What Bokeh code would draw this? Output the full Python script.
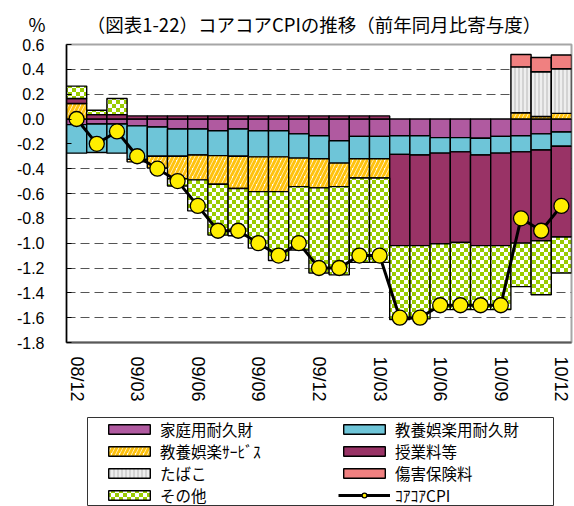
import numpy as np
from bokeh.plotting import figure
from bokeh.layouts import column
from bokeh.models import (ColumnDataSource, Range1d, FixedTicker, Legend,
                          LegendItem, CanvasTexture, PrintfTickFormatter)
from bokeh.core.properties import value
from bokeh.embed import file_html
from bokeh.resources import INLINE

# ---------------- data ----------------
months = ["08/12", "09/01", "09/02", "09/03", "09/04", "09/05", "09/06", "09/07", "09/08",
          "09/09", "09/10", "09/11", "09/12", "10/01", "10/02", "10/03", "10/04", "10/05",
          "10/06", "10/07", "10/08", "10/09", "10/10", "10/11", "10/12"]
tick_labels = ["08/12", "09/03", "09/06", "09/09", "09/12", "10/03", "10/06", "10/09", "10/12"]
y_ticks = [-1.8, -1.6, -1.4, -1.2, -1.0, -0.8, -0.6, -0.4, -0.2, 0.0, 0.2, 0.4, 0.6]

kateiyo = [-0.045, -0.04, -0.04, -0.055, -0.065, -0.08, -0.08, -0.095, -0.08, -0.095, -0.095,
           -0.12, -0.135, -0.175, -0.14, -0.14, -0.135, -0.135, -0.15, -0.15, -0.155, -0.14,
           -0.135, -0.12, -0.105]
kyoyo_taikyu = [-0.23, -0.23, -0.235, -0.27, -0.235, -0.22, -0.21, -0.2, -0.22, -0.21, -0.21,
                -0.195, -0.185, -0.18, -0.18, -0.18, -0.15, -0.155, -0.125, -0.115, -0.135,
                -0.135, -0.13, -0.13, -0.115]
kyoyo_service = [0.125, 0.0, 0.0, -0.02, -0.095, -0.18, -0.2, -0.23, -0.26, -0.28, -0.28,
                 -0.23, -0.235, -0.19, -0.155, -0.155, 0.0, 0.0, 0.0, 0.0, 0.0, 0.0,
                 0.05, 0.02, 0.045]
jugyoryo = [0.04, 0.035, 0.035, 0.025, 0.025, 0.025, 0.025, 0.025, 0.025, 0.025, 0.025,
            0.025, 0.025, 0.025, 0.025, 0.025, -0.735, -0.73, -0.73, -0.73, -0.73, -0.745,
            -0.735, -0.73, -0.73]
tabako = [0.0] * 22 + [0.37, 0.36, 0.36]
hoken = [0.0] * 22 + [0.10, 0.115, 0.11]
sonota = [0.10, 0.035, 0.13, 0.0, 0.0, -0.06, -0.25, -0.41, -0.38, -0.455, -0.555, -0.51,
          -0.685, -0.71, -0.68, -0.68, -0.595, -0.59, -0.53, -0.54, -0.515, -0.515,
          -0.35, -0.435, -0.29]
core_core_cpi = [0.0, -0.2, -0.1, -0.3, -0.4, -0.5, -0.7, -0.9, -0.9, -1.0, -1.1, -1.0,
                 -1.2, -1.2, -1.1, -1.1, -1.6, -1.6, -1.5, -1.5, -1.5, -1.5, -0.8, -0.9, -0.7]

series_names = ["家庭用耐久財", "教養娯楽用耐久財", "教養娯楽ｻｰﾋﾞｽ", "授業料等", "たばこ", "傷害保険料", "その他"]
series_values = [kateiyo, kyoyo_taikyu, kyoyo_service, jugyoryo, tabako, hoken, sonota]
line_name = "ｺｱｺｱCPI"
title_text = "%　　 （図表1-22）コアコアCPIの推移（前年同月比寄与度）"

JP_FONT = "Noto Sans CJK JP"

# ---------------- styles ----------------
def make_checker():
    return CanvasTexture(code="""
const c = ctx.canvas;
c.width = 8; c.height = 8;
const g = c.getContext("2d");
g.clearRect(0, 0, 8, 8);
g.fillStyle = "#99CC00";
g.fillRect(0, 0, 4, 4);
g.fillRect(4, 4, 4, 4);
""")

def styles():
    return [
        dict(fill_color="#B05AA0"),
        dict(fill_color="#6EC5D8"),
        dict(fill_color="#FFFFFF", hatch_pattern="/", hatch_color="#FFC20E", hatch_scale=8, hatch_weight=3),
        dict(fill_color="#993366"),
        dict(fill_color="#EEEEEE", hatch_pattern="|", hatch_color="#B8B8B8", hatch_scale=4, hatch_weight=1),
        dict(fill_color="#F08080"),
        dict(fill_color="#FFFFFF", hatch_pattern=value("checker"), hatch_extra={"checker": make_checker()},
             hatch_color="#99CC00", hatch_scale=8),
    ]

BAR_LINE = dict(line_color="#000000", line_width=1.4)

# ---------------- main figure ----------------
p = figure(width=574, height=410, output_backend="svg", toolbar_location=None,
           title=title_text,
           x_range=Range1d(-0.5, 24.5), y_range=Range1d(-1.8, 0.6),
           min_border_left=66, min_border_right=3, min_border_top=44, min_border_bottom=68)
p.background_fill_color = "white"
p.border_fill_color = "white"
p.outline_line_color = "#A6A6A6"
p.outline_line_width = 2

p.title.align = "left"
p.title.offset = -38
p.title.text_font = JP_FONT
p.title.text_font_size = "18.5px"
p.title.text_font_style = "normal"
p.title.text_color = "#000000"
p.title.standoff = 15

x = np.arange(len(months))
pos = np.zeros(len(months))
neg = np.zeros(len(months))
bar_sources = []
for vals, st in zip(series_values, styles()):
    v = np.array(vals, dtype=float)
    bottom = np.where(v >= 0, pos, neg)
    top = bottom + v
    pos = np.where(v >= 0, top, pos)
    neg = np.where(v < 0, top, neg)
    mask = v != 0
    src = ColumnDataSource(dict(x=x[mask], bottom=bottom[mask], top=top[mask]))
    bar_sources.append(src)
    p.vbar(x="x", width=1.0, bottom="bottom", top="top", source=src, **BAR_LINE, **st)

line_src = ColumnDataSource(dict(x=x, y=core_core_cpi))
p.line("x", "y", source=line_src, line_color="#000000", line_width=3)
p.scatter("x", "y", source=line_src, size=15, fill_color="#FFEE00",
          line_color="#000000", line_width=1.3)

# axes
p.xaxis.ticker = FixedTicker(ticks=list(range(0, len(months), 3)))
p.xaxis.major_label_overrides = {i * 3: lab for i, lab in enumerate(tick_labels)}
p.xaxis.major_label_orientation = "vertical"
p.xaxis.major_label_text_font = "Liberation Sans"
p.xaxis.major_label_text_font_size = "18px"
p.xaxis.major_label_text_color = "#000000"
p.xaxis.major_label_standoff = 14
p.xaxis.major_tick_out = 0
p.xaxis.major_tick_in = 0
p.xaxis.minor_tick_out = 0
p.xaxis.axis_line_color = "#595959"
p.xaxis.axis_line_width = 2

p.yaxis.ticker = FixedTicker(ticks=y_ticks)
p.yaxis.formatter = PrintfTickFormatter(format="%.1f")
p.yaxis.major_label_text_font = "Liberation Sans"
p.yaxis.major_label_text_font_size = "16px"
p.yaxis.major_label_text_color = "#000000"
p.yaxis.major_label_standoff = 22
p.yaxis.major_tick_out = 0
p.yaxis.major_tick_in = 5
p.yaxis.major_tick_line_color = "#000000"
p.yaxis.minor_tick_out = 0
p.yaxis.minor_tick_in = 0
p.yaxis.axis_line_color = "#000000"
p.yaxis.axis_line_width = 1.5

p.xgrid.visible = False
p.ygrid.ticker = FixedTicker(ticks=y_ticks)
p.ygrid.grid_line_color = "#555555"
p.ygrid.grid_line_dash = "9 5"
p.ygrid.grid_line_width = 1

# ---------------- legend figure (its frame is the legend box) ----------------
q = figure(width=574, height=96, output_backend="svg", toolbar_location=None,
           x_axis_type=None, y_axis_type=None, x_range=Range1d(-0.5, 24.5), y_range=Range1d(-1.8, 0.6),
           min_border_left=87, min_border_right=21, min_border_top=7, min_border_bottom=0)
q.outline_line_color = "#333333"
q.outline_line_width = 1
q.xgrid.visible = False
q.ygrid.visible = False
q.background_fill_color = "white"
q.border_fill_color = "white"

for fig in (p, q):
    if "frame_align" in fig.properties():
        fig.frame_align = False

leg_renderers = []
for src, st in zip(bar_sources, styles()):
    leg_renderers.append(q.vbar(x="x", width=1.0, bottom="bottom", top="top", source=src,
                                visible=False, **BAR_LINE, **st))
ql = q.line("x", "y", source=line_src, line_color="#000000", line_width=3, visible=False)
qs = q.scatter("x", "y", source=line_src, size=12, fill_color="#FFEE00",
               line_color="#000000", line_width=1.3, visible=False)

items = [LegendItem(label=n, renderers=[r]) for n, r in zip(series_names, leg_renderers)]
items.append(LegendItem(label=line_name, renderers=[ql, qs]))
legend = Legend(items=items, orientation="horizontal", ncols=2,
                location=(16, 0), padding=0, spacing=0, margin=0,
                glyph_width=52, glyph_height=12, label_standoff=5, label_width=178,
                label_text_font=JP_FONT, label_text_font_size="15.5px",
                label_text_color="#000000",
                border_line_color=None,
                background_fill_alpha=0.0,
                inactive_fill_alpha=0.0)
q.add_layout(legend)

layout = column(p, q, spacing=0)
open("out.html", "w").write(file_html(layout, INLINE))
